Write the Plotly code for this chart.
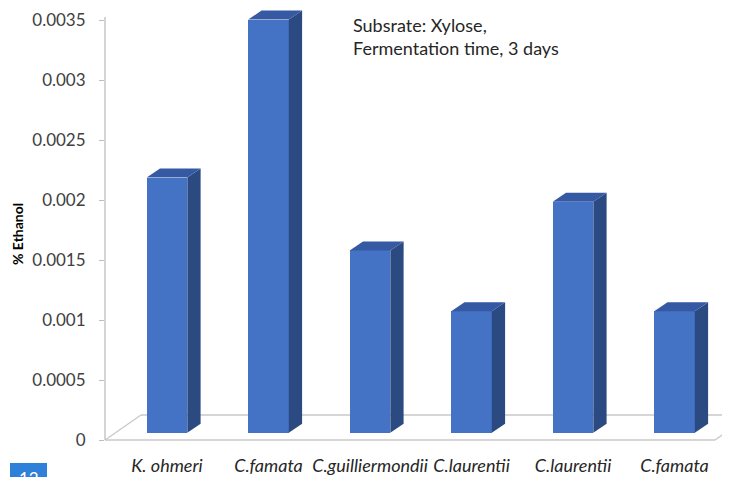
import plotly.graph_objects as go

# ---- data ----
categories = ["K. ohmeri", "C.famata", "C.guilliermondii", "C.laurentii", "C.laurentii", "C.famata"]
ethanol_pct = [0.0021, 0.0034, 0.0015, 0.001, 0.0019, 0.001]
y_ticks = [0, 0.0005, 0.001, 0.0015, 0.002, 0.0025, 0.003, 0.0035]
y_tick_labels = ["0", "0.0005", "0.001", "0.0015", "0.002", "0.0025", "0.003", "0.0035"]
note_text = "Subsrate: Xylose,<br>Fermentation time, 3 days"
y_title = "% Ethanol"

# ---- layout geometry (page pixels; the page body has an 8px margin) ----
OFF = 8
W, H = 730 - OFF, 477 - OFF
ML, MR, MT, MB = 105 - OFF, 0, 0, 30
plot_w = W - ML - MR
plot_h = H - MT - MB
page_left = ML + OFF
page_top = MT + OFF
page_bottom = page_top + plot_h

px_per_cat = 101.5
first_cat_px = 167.0
x0 = -(first_cat_px - page_left) / px_per_cat
x1 = x0 + plot_w / px_per_cat

# main value axis: 0 at page pixel 440, 120 px per 0.001
y_px_per_unit = 120.0 / 0.001
y_zero_px = 440.0
ylo = -(page_bottom - y_zero_px) / y_px_per_unit
yhi = ylo + plot_h / y_px_per_unit

# bar (front face) axis: perspective, front base a little above the floor edge
b_px_per_unit = 121.5 / 0.001
b_zero_px = 432.7
b_lo = -(page_bottom - b_zero_px) / b_px_per_unit
b_hi = b_lo + plot_h / b_px_per_unit

bar_w = 0.40
depth_dx = 13.3 / px_per_cat
depth_dy = 9.0 / b_px_per_unit

front_col = "#4472C4"
top_col = "#3559A3"
side_col = "#2B4A82"

xs = list(range(len(categories)))

fig = go.Figure()
fig.add_trace(go.Bar(
    x=xs, y=ethanol_pct, width=bar_w, yaxis="y2",
    marker=dict(color=front_col, line=dict(width=0)),
    showlegend=False, hoverinfo="skip",
))

shapes = []
# floor
fdx = 36.0 / px_per_cat
fdy = 25.0 / y_px_per_unit
floor_right = x0 + 610.0 / px_per_cat
floor_col = "#C9C9C9"
for (xa, ya, xb, yb) in [
    (x0, 0, floor_right, 0),
    (x0 + fdx, fdy, floor_right + fdx, fdy),
    (x0, 0, x0 + fdx, fdy),
    (floor_right, 0, floor_right + fdx, fdy),
]:
    shapes.append(dict(type="line", xref="x", yref="y", x0=xa, y0=ya, x1=xb, y1=yb,
                       line=dict(color=floor_col, width=1.3), layer="below"))
# y axis line
shapes.append(dict(type="line", xref="paper", yref="y", x0=0, x1=0, y0=0, y1=0.0035 + 3 / y_px_per_unit,
                   line=dict(color="#BFBFBF", width=1.3), layer="below"))

# 3D faces computed from the data
for xi, v in zip(xs, ethanol_pct):
    l, r = xi - bar_w / 2, xi + bar_w / 2
    top = f"M{l},{v} L{r},{v} L{r + depth_dx},{v + depth_dy} L{l + depth_dx},{v + depth_dy} Z"
    side = f"M{r},0 L{r + depth_dx},{depth_dy} L{r + depth_dx},{v + depth_dy} L{r},{v} Z"
    shapes.append(dict(type="path", xref="x", yref="y2", path=side,
                       fillcolor=side_col, line=dict(width=0), layer="above"))
    shapes.append(dict(type="path", xref="x", yref="y2", path=top,
                       fillcolor=top_col, line=dict(width=0), layer="above"))


def px_x(p):
    return (p - page_left) / plot_w


def px_y(p):
    return (page_bottom - p) / plot_h


# badge at bottom-left
shapes.append(dict(type="rect", xref="paper", yref="paper",
                   x0=px_x(10), x1=px_x(47), y0=px_y(463), y1=px_y(480),
                   fillcolor="#2F80D8", line=dict(width=0), layer="above"))

annotations = [
    dict(text=note_text, xref="paper", yref="paper", x=px_x(351), y=px_y(12),
         xanchor="left", yanchor="top", align="left", showarrow=False,
         font=dict(family="Lato", size=18, color="#262626")),
    dict(text="<b>" + y_title + "</b>", xref="paper", yref="paper", x=px_x(18), y=px_y(234),
         xanchor="center", yanchor="middle", textangle=-90, showarrow=False,
         font=dict(family="Lato", size=14, color="#000000")),
    dict(text="12", xref="paper", yref="paper", x=px_x(28.5), y=px_y(466),
         xanchor="center", yanchor="top", showarrow=False,
         font=dict(family="Lato", size=17, color="#FFFFFF")),
]

fig.update_layout(
    width=W, height=H,
    margin=dict(l=ML, r=MR, t=MT, b=MB, pad=0),
    paper_bgcolor="white", plot_bgcolor="white",
    showlegend=False,
    bargap=0,
    xaxis=dict(range=[x0, x1], tickmode="array", tickvals=xs, ticktext=categories,
               showgrid=False, zeroline=False, showline=False, ticks="",
               tickfont=dict(family="Lato", size=18, color="#262626", style="italic"),
               ticklabelstandoff=6, fixedrange=True),
    yaxis=dict(range=[ylo, yhi], tickmode="array", tickvals=y_ticks, ticktext=y_tick_labels,
               showgrid=False, zeroline=False, showline=False,
               ticks="outside", ticklen=5, tickcolor="#BFBFBF", tickwidth=1.3,
               tickfont=dict(family="Lato", size=17, color="#404040"),
               ticklabelstandoff=10, fixedrange=True),
    yaxis2=dict(range=[b_lo, b_hi], overlaying="y", visible=False, fixedrange=True),
    shapes=shapes,
    annotations=annotations,
)

fig.write_html("out.html")
